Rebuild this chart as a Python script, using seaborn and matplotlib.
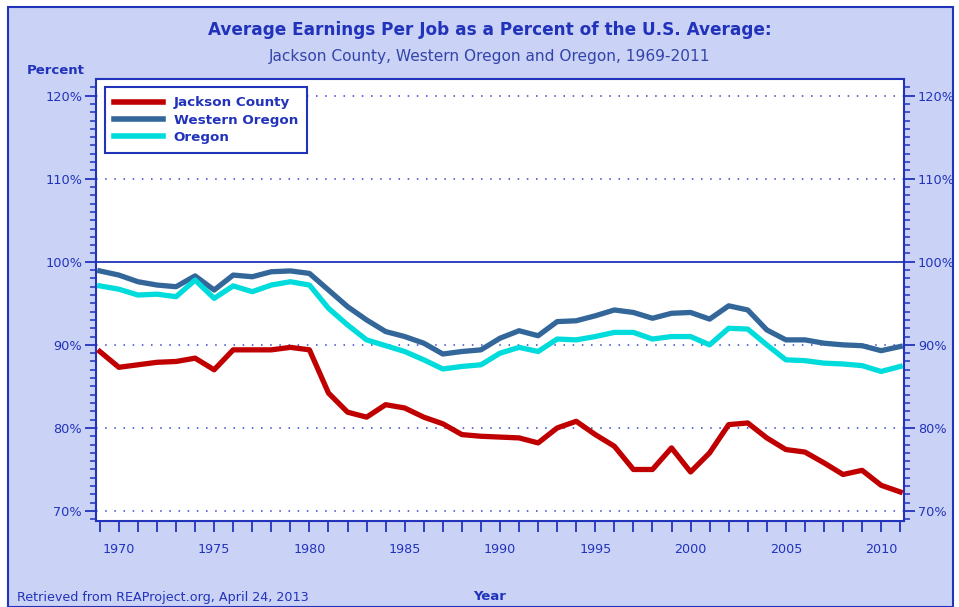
import numpy as np
import pandas as pd
import matplotlib.pyplot as plt
import matplotlib.patches as patches
import seaborn as sns

# Data (percent of U.S. average)
years = list(range(1969, 2012))
jackson = [89.2, 87.3, 87.6, 87.9, 88.0, 88.4, 87.0, 89.4, 89.4, 89.4, 89.7, 89.4,
           84.2, 81.9, 81.3, 82.8, 82.4, 81.3, 80.5, 79.2, 79.0, 78.9, 78.8, 78.2,
           80.0, 80.8, 79.2, 77.8, 75.0, 75.0, 77.6, 74.7, 77.0, 80.4, 80.6, 78.8,
           77.4, 77.1, 75.8, 74.4, 74.9, 73.1, 72.3]
western = [98.9, 98.4, 97.6, 97.2, 97.0, 98.3, 96.6, 98.4, 98.2, 98.8, 98.9, 98.6,
           96.6, 94.6, 93.0, 91.6, 91.0, 90.2, 88.9, 89.2, 89.4, 90.8, 91.7, 91.1,
           92.8, 92.9, 93.5, 94.2, 93.9, 93.2, 93.8, 93.9, 93.1, 94.7, 94.2, 91.8,
           90.6, 90.6, 90.2, 90.0, 89.9, 89.3, 89.8]
oregon = [97.1, 96.7, 96.0, 96.1, 95.8, 97.8, 95.6, 97.1, 96.4, 97.2, 97.6, 97.2,
          94.4, 92.4, 90.6, 89.9, 89.2, 88.2, 87.1, 87.4, 87.6, 89.0, 89.7, 89.2,
          90.7, 90.6, 91.0, 91.5, 91.5, 90.7, 91.0, 91.0, 90.0, 92.0, 91.9, 90.0,
          88.2, 88.1, 87.8, 87.7, 87.5, 86.8, 87.4]
series_names = ['Jackson County', 'Western Oregon', 'Oregon']
colors = ['#C00000', '#336699', '#00DCDC']

df = pd.DataFrame({'Year': years * 3,
                   'Percent': jackson + western + oregon,
                   'Area': np.repeat(series_names, len(years))})

blue = '#2233BB'
bg = '#CAD2F5'

fig = plt.figure(figsize=(9.59, 6.07), dpi=100)
fig.patch.set_facecolor('white')
# lavender panel with blue frame, behind everything
fig.patches.append(patches.Rectangle((8 / 959, 0), 945 / 959, 1 - 7 / 607,
                                     transform=fig.transFigure, facecolor=bg,
                                     edgecolor=blue, linewidth=1.5, zorder=-10))

ax = fig.add_axes([96 / 959, 1 - 521 / 607, 808 / 959, 442 / 607])
ax.set_facecolor('white')

sns.lineplot(data=df, x='Year', y='Percent', hue='Area', hue_order=series_names,
             palette=colors, linewidth=3.8, ax=ax, zorder=3)

ax.set_xlim(1968.8, 2011.2)
ax.set_ylim(68.8, 122.0)

# reference lines
for v in [70, 80, 90, 110, 120]:
    ax.axhline(v, color='#3344CC', linestyle=(0, (1, 5)), linewidth=1.1, zorder=1)
ax.axhline(100, color=blue, linewidth=1.3, zorder=2)

ax.set_xticks(range(1970, 2011, 5))
ax.set_xticks(years, minor=True)
ax.set_yticks(range(70, 121, 10))
ax.set_yticks(range(69, 122), minor=True)
ax.set_yticklabels([f'{v}%' for v in range(70, 121, 10)])

for s in ax.spines.values():
    s.set_color(blue)
    s.set_linewidth(1.5)
ax.tick_params(axis='x', which='both', direction='out', length=8, width=1.3,
               color=blue, labelcolor=blue, labelsize=9.2, pad=8)
ax.tick_params(axis='y', which='major', direction='out', length=8, width=1.3,
               color=blue, labelcolor=blue, labelsize=9.3, pad=2,
               left=True, right=True, labelleft=True, labelright=True)
ax.tick_params(axis='y', which='minor', direction='out', length=4, width=1.1,
               color=blue, left=True, right=True)
ax.set_xlabel('')
ax.set_ylabel('')

leg = ax.legend(loc='upper left', bbox_to_anchor=(0.011, 0.982), borderaxespad=0,
                fancybox=False, edgecolor=blue, framealpha=1, handlelength=3.6,
                labelspacing=0.32, prop={'weight': 'bold', 'size': 9.7},
                borderpad=0.7)
leg.get_frame().set_linewidth(1.5)
for t in leg.get_texts():
    t.set_color(blue)
for h in leg.get_lines():
    h.set_linewidth(4)

fig.text(0.511, 1 - 30 / 607, 'Average Earnings Per Job as a Percent of the U.S. Average:',
         ha='center', va='center', fontsize=12.2, fontweight='bold', color=blue)
fig.text(0.511, 1 - 56 / 607, 'Jackson County, Western Oregon and Oregon, 1969-2011',
         ha='center', va='center', fontsize=11.1, color='#3344AA')
fig.text(56 / 959, 1 - 70 / 607, 'Percent', ha='center', va='center',
         fontsize=9.5, fontweight='bold', color=blue)
fig.text(490 / 959, 1 - 597 / 607, 'Year', ha='center', va='center',
         fontsize=9.5, fontweight='bold', color=blue)
fig.text(17 / 959, 1 - 597 / 607, 'Retrieved from REAProject.org, April 24, 2013',
         ha='left', va='center', fontsize=9.2, color=blue)

fig.savefig('out.png', dpi=100)
